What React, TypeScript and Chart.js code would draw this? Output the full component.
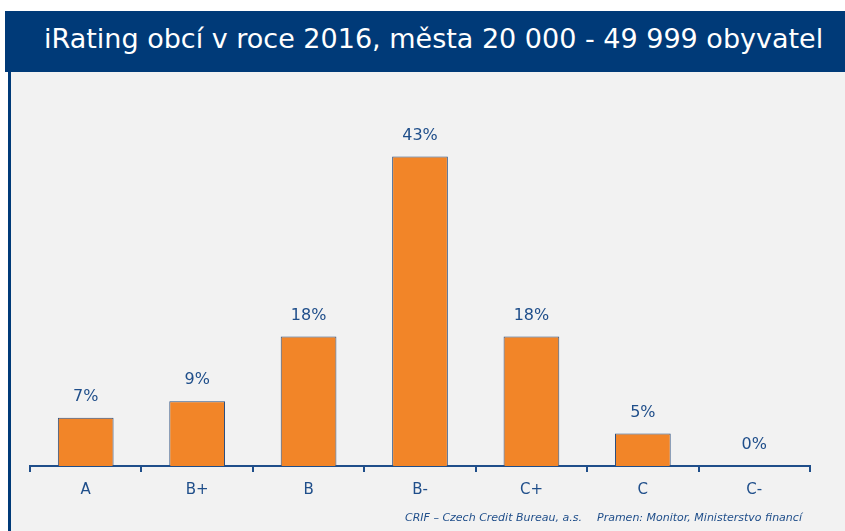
import React, { useEffect, useRef } from "react";
import { Chart, registerables } from "chart.js";

Chart.register(...registerables);

const categories = ["A", "B+", "B", "B-", "C+", "C", "C-"];
const shares = [6.7, 9.0, 18.0, 43.0, 18.0, 4.5, 0];
const titleText = "iRating obcí v roce 2016, města 20 000 - 49 999 obyvatel";
const footerLeft = "CRIF – Czech Credit Bureau, a.s.";
const footerRight = "Pramen: Monitor, Ministerstvo financí";

const DARK = "#003a78";
const TEXT = "#1f4e8a";
const ORANGE = "#f28528";

const labelPlugin = {
  id: "barLabels",
  afterDatasetsDraw(chart: any) {
    const { ctx } = chart;
    const meta = chart.getDatasetMeta(0);
    ctx.save();
    ctx.font = "16px 'DejaVu Sans'";
    ctx.fillStyle = TEXT;
    ctx.textAlign = "center";
    ctx.textBaseline = "middle";
    meta.data.forEach((bar: any, i: number) => {
      ctx.fillText(Math.round(shares[i]) + "%", bar.x, bar.y - 21);
    });
    ctx.restore();
  },
};

export default function App() {
  const ref = useRef<HTMLCanvasElement>(null);
  useEffect(() => {
    if (!ref.current) return;
    const chart = new Chart(ref.current, {
      type: "bar",
      data: {
        labels: categories,
        datasets: [
          {
            data: shares,
            backgroundColor: ORANGE,
            borderColor: "#2b4f80",
            borderWidth: 1,
            categoryPercentage: 1,
            barPercentage: 0.5,
          },
        ],
      },
      options: {
        animation: false,
        responsive: false,
        maintainAspectRatio: false,
        layout: { padding: { left: 30, right: 35, top: 34, bottom: 23 } },
        plugins: { legend: { display: false }, tooltip: { enabled: false }, title: { display: false } },
        scales: {
          y: { display: false, min: 0, max: 50 },
          x: {
            grid: { drawOnChartArea: false, drawTicks: true, tickLength: 6, color: TEXT, lineWidth: 2, offset: true },
            border: { display: true, color: TEXT, width: 2 },
            ticks: { color: TEXT, font: { family: "'DejaVu Sans'", size: 15 }, padding: 9 },
          },
        },
      },
      plugins: [labelPlugin],
    });
    return () => chart.destroy();
  }, []);

  return (
    <div style={{ position: "absolute", left: 0, top: 0, width: 845, height: 531, background: "#ffffff", overflow: "hidden" }}>
      <div style={{ position: "absolute", left: 5, top: 11, width: 840, height: 61, background: DARK }}>
        <div style={{ position: "absolute", left: 39, top: 0, height: 56, lineHeight: "56px", color: "#ffffff", fontFamily: "'DejaVu Sans'", fontSize: 27, whiteSpace: "nowrap" }}>
          {titleText}
        </div>
      </div>
      <div style={{ position: "absolute", left: 8, top: 72, width: 837, height: 459, background: "#f2f2f2", borderLeft: "3px solid " + DARK, boxSizing: "border-box" }} />
      <canvas ref={ref} width={845} height={459} style={{ position: "absolute", left: 0, top: 72, width: 845, height: 459 }} />
      <div style={{ position: "absolute", left: 405, top: 511, color: TEXT, fontFamily: "'DejaVu Sans'", fontStyle: "italic", fontSize: 11, whiteSpace: "nowrap" }}>
        {footerLeft}
      </div>
      <div style={{ position: "absolute", left: 597, top: 511, color: TEXT, fontFamily: "'DejaVu Sans'", fontStyle: "italic", fontSize: 11, whiteSpace: "nowrap" }}>
        {footerRight}
      </div>
    </div>
  );
}
